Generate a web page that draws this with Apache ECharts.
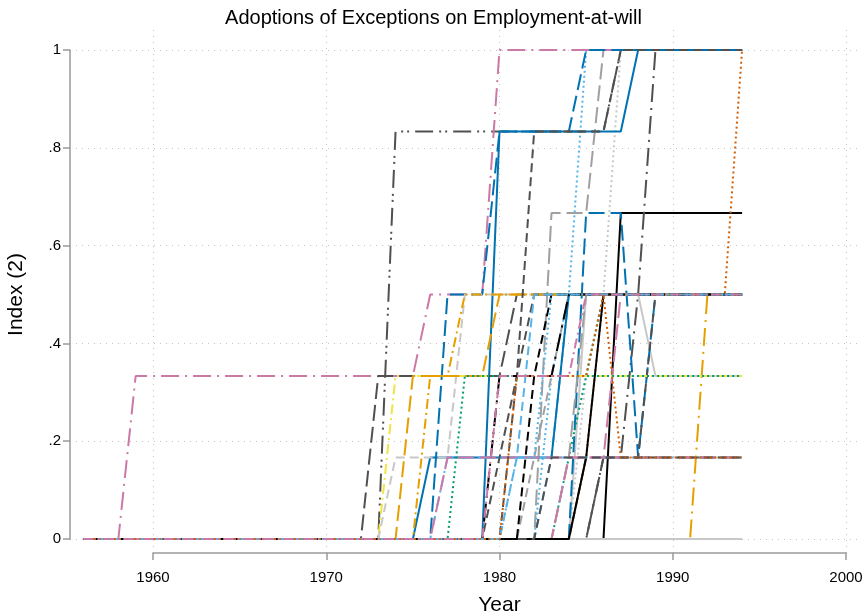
<!DOCTYPE html>
<html><head><meta charset="utf-8">
<script src="https://cdn.jsdelivr.net/npm/echarts@6/dist/echarts.min.js"></script>
<style>html,body{margin:0;padding:0;background:#fff}#c{width:867px;height:615px}</style>
</head><body><div id="c"></div>
<script>
// ---- data ----
const years = [1956,1957,1958,1959,1960,1961,1962,1963,1964,1965,1966,1967,1968,1969,
  1970,1971,1972,1973,1974,1975,1976,1977,1978,1979,1980,1981,1982,1983,1984,1985,
  1986,1987,1988,1989,1990,1991,1992,1993,1994];
const xTicks = [1960, 1970, 1980, 1990, 2000];
const yTicks = [0, 0.2, 0.4, 0.6, 0.8, 1];
const yTickLabels = ['0', '.2', '.4', '.6', '.8', '1'];
// index level of each series, in sixths, one digit per year (groups: 1956-59 | 60s | 70s | 80s | 1990-94)
const seriesIds = ['s1','s2','s3','s4','s5','s6','s7','s8','s9','s10','s11','s12','s13','s14','s15',
  's16','s17','s18','s19','s20','s21','s22','s23','s24','s25','s26','s27','s28','s29','s30','s31',
  's32','s33','s34','s35','z1','z2','z3','z4','z5','z6','z7','z8','z9','z10','z11','z12'];
const levels = [
  "0002|2222222222|2222223333|6666666666|66666",
  "0000|0000000000|0000555555|5555555666|66666",
  "0000|0000000000|0000000333|5555566666|66666",
  "0000|0000000000|0000000000|5555555566|66666",
  "0000|0000000000|0000001111|1111333333|33333",
  "0000|0000000000|0000222222|2222222222|22222",
  "0000|0000000000|0002222222|2333333333|33333",
  "0000|0000000000|0000111133|3333333333|33333",
  "0000|0000000000|0000022222|3333333333|33333",
  "0000|0000000000|0000002233|3333333333|33333",
  "0000|0000000000|0000000111|1111111111|11111",
  "0000|0000000000|0000000111|1111111111|11111",
  "0000|0000000000|0000000022|2222222222|22222",
  "0000|0000000000|0000000000|0000000444|44444",
  "0000|0000000000|0000000000|0000013333|33333",
  "0000|0000000000|0000000000|2222333333|33333",
  "0000|0000000000|0000000000|2222233333|33333",
  "0000|0000000000|0000000000|0000111333|33333",
  "0000|0000000000|0000000000|0222223111|11111",
  "0000|0000000000|0000000000|0000013333|33336",
  "0000|0000000000|0000000000|0000000000|00333",
  "0000|0000000000|0000000000|0004446666|66666",
  "0000|0000000000|0000000000|0002366666|66666",
  "0000|0000000000|0000000000|0000023666|66666",
  "0000|0000000000|0000000000|0000001136|66666",
  "0000|0000000000|0000000000|0000044413|33333",
  "0000|0000000000|0000000000|0000033332|22222",
  "0000|0000000000|0000000000|0000011113|33333",
  "0000|0000000000|0000000000|0113333333|33333",
  "0000|0000000000|0000000000|0001333333|33333",
  "0000|0000000000|0000000000|0012333333|33333",
  "0000|0000000000|0000000000|1233333333|33333",
  "0000|0000000000|0000000000|0000001111|11111",
  "0000|0000000000|0000000000|0000123333|33333",
  "0000|0000000000|0000000000|0255555666|66666",
  "0000|0000000000|0000000000|0133333333|33333",
  "0000|0000000000|0000000000|0000000000|00000",
  "0000|0000000000|0000000000|0023333333|33333",
  "0000|0000000000|0000000000|0000133333|33333",
  "0000|0000000000|0000000000|0000000000|00000",
  "0000|0000000000|0000000000|0000000000|00000",
  "0000|0000000000|0000000000|0000000000|00000",
  "0000|0000000000|0000000000|0000000000|00000",
  "0000|0000000000|0000000000|0000000000|00000",
  "0000|0000000000|0000000000|0001111111|11111",
  "0000|0000000000|0000000000|0000000000|00000",
  "0000|0000000000|0000000000|0000000000|00000"
];

// ---- styles ----
const COL = {black:'#000000', blue:'#0072B2', sky:'#56B4E9', green:'#009E73', pink:'#CC79A7',
  verm:'#D55E00', orange:'#E69F00', yellow:'#F0E442', dkgray:'#505050', gray:'#A0A0A0', ltgray:'#C8C8C8'};
const DASH = {solid:'solid', dash:[9,5], longdash:[16,6], dot:[2,3], dashdot:[10,4,2,4],
  ldashdot:[18,6,2,6], ldashdd:[18,6,2,4,2,6]};
const styleOf = {
  s1:['pink','ldashdot'], s2:['dkgray','ldashdd'], s3:['blue','longdash'], s4:['blue','solid'],
  s5:['blue','solid'], s6:['yellow','dashdot'], s7:['dkgray','longdash'], s8:['ltgray','dash'],
  s9:['orange','longdash'], s10:['orange','dashdot'], s11:['sky','dashdot'], s12:['pink','longdash'],
  s13:['green','dot'], s14:['black','solid'], s15:['black','solid'], s16:['black','ldashdot'],
  s17:['pink','dashdot'], s18:['pink','longdash'], s19:['verm','dot'], s20:['verm','dot'],
  s21:['orange','ldashdot'], s22:['gray','longdash'], s23:['sky','dot'], s24:['ltgray','dot'],
  s25:['dkgray','ldashdot'], s26:['blue','longdash'], s27:['ltgray','solid'], s28:['dkgray','dash'],
  s29:['sky','dot'], s30:['sky','dash'], s31:['gray','dash'], s32:['dkgray','dash'],
  s33:['dkgray','longdash'], s34:['green','dot'], s35:['dkgray','dash'],
  z1:['sky','dash'], z2:['pink','dashdot'], z3:['black','dash'], z4:['gray','longdash'],
  z5:['green','dot'], z6:['orange','dashdot'], z7:['yellow','dash'], z8:['verm','dot'],
  z9:['blue','longdash'], z10:['dkgray','dash'], z11:['sky','dot'], z12:['ltgray','solid']
};
// drawing order (later on top)
const drawOrder = ['z2','z5','z6','z7','z8','z9','z11','s14','s21','s25','s33','z12',
  's27','s24','s26','s28','s20','s22','s23','s30','s31','s34','z4','s18','s15','s2','s1','s3','s4','s5','s6',
  's7','s8','s9','s10','s11','s12','s13','z10','z3','s35','s32','s16','z1','s29','s19','s17'];

const series = drawOrder.map(id => {
  const i = seriesIds.indexOf(id);
  const digits = levels[i].replace(/\|/g, '');
  const st = styleOf[id];
  return {
    name: id, type: 'line', xAxisIndex: 0, yAxisIndex: 0,
    showSymbol: false, symbol: 'none', clip: false, silent: true,
    data: years.map((y, k) => [y, Number(digits[k]) / 6]),
    lineStyle: {color: COL[st[0]], width: 2, type: DASH[st[1]], cap: 'butt'}
  };
});

const FONT = 'Liberation Sans, Arial, sans-serif';
const axisGray = '#9a9a9a';
const gridLine = {show: true, lineStyle: {color: '#c4c4c4', width: 1, type: [1, 5]}};

const chart = echarts.init(document.getElementById('c'), null, {renderer: 'canvas'});
chart.setOption({
  animation: false,
  backgroundColor: '#ffffff',
  title: {text: 'Adoptions of Exceptions on Employment-at-will', left: 'center', top: 8, padding: 0,
    textStyle: {fontFamily: FONT, fontSize: 20, fontWeight: 'normal', color: '#000'}},
  grid: [
    {left: 70, right: 9, top: 50, bottom: 76, outerBoundsMode: 'none', containLabel: false},
    {left: 153, right: 21, top: 30, bottom: 62, outerBoundsMode: 'none', containLabel: false}
  ],
  xAxis: [
    {gridIndex: 0, type: 'value', min: 1955.21, max: 2000.69, show: false},
    {gridIndex: 1, type: 'value', min: xTicks[0], max: xTicks[xTicks.length - 1], interval: 10,
      name: 'Year', nameLocation: 'middle', nameGap: 42,
      nameTextStyle: {fontFamily: FONT, fontSize: 21, color: '#000'},
      axisLine: {show: true, onZero: false, lineStyle: {color: axisGray, width: 1.5}},
      axisTick: {show: true, length: 7, lineStyle: {color: axisGray, width: 1.5}},
      axisLabel: {margin: 17, color: '#000', fontFamily: FONT, fontSize: 15,
        formatter: v => String(v)},
      splitLine: gridLine}
  ],
  yAxis: [
    {gridIndex: 0, type: 'value', min: yTicks[0], max: yTicks[yTicks.length - 1], interval: 0.2,
      name: 'Index (2)', nameLocation: 'middle', nameGap: 43, nameRotate: 90,
      nameTextStyle: {fontFamily: FONT, fontSize: 21, color: '#000'},
      axisLine: {show: true, lineStyle: {color: axisGray, width: 1.5}},
      axisTick: {show: true, length: 7, lineStyle: {color: axisGray, width: 1.5}},
      axisLabel: {margin: 9, color: '#000', fontFamily: FONT, fontSize: 15,
        formatter: v => { const k = yTicks.findIndex(t => Math.abs(t - v) < 1e-9); return k >= 0 ? yTickLabels[k] : ''; }},
      splitLine: gridLine},
    {gridIndex: 1, type: 'value', min: 0, max: 1, show: false}
  ],
  series: series
});
</script></body></html>
